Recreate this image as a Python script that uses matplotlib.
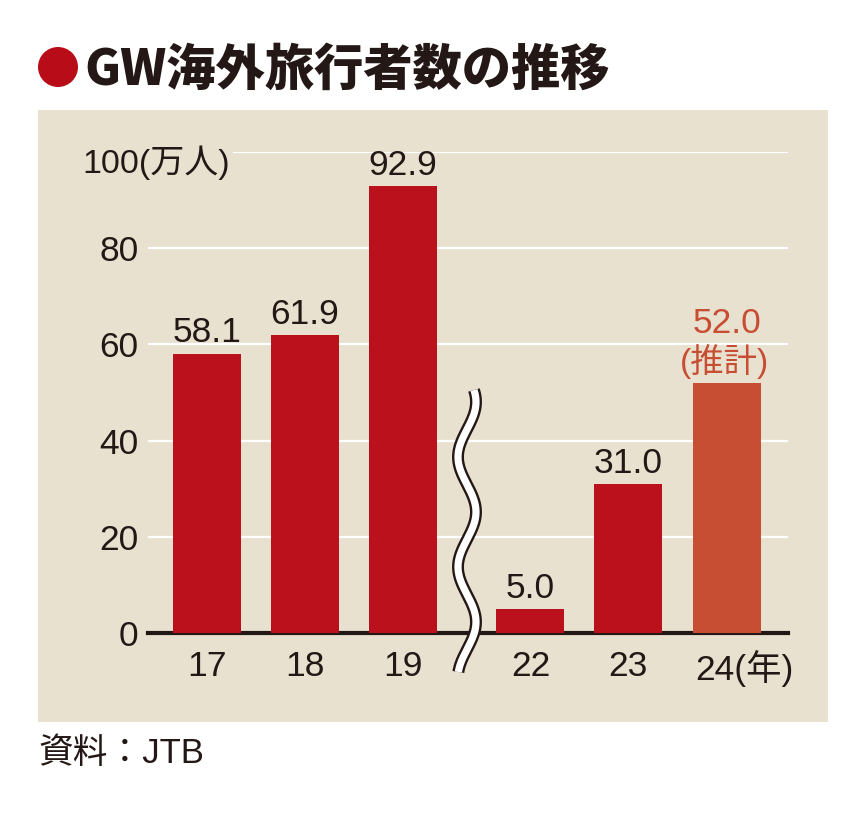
import numpy as np
import matplotlib
matplotlib.use("Agg")
import matplotlib.pyplot as plt
from matplotlib.patches import Rectangle, Ellipse

plt.rcParams['font.family'] = ['Liberation Sans', 'Noto Sans CJK JP', 'DejaVu Sans']

# ---- data ----
years = ["17", "18", "19", "22", "23", "24"]
values = [58.1, 61.9, 92.9, 5.0, 31.0, 52.0]
positions = [0, 1, 2, 3.3, 4.3, 5.31]
yticks = [0, 20, 40, 60, 80]
title = "GW海外旅行者数の推移"
source = "資料：JTB"

DARK = "#231815"
RED = "#bb111c"
ORANGE = "#c74d33"
BEIGE = "#e9e1cf"

W, H = 868, 813
fig = plt.figure(figsize=(W / 100, H / 100), dpi=100)
fig.patch.set_facecolor("white")

def fx(px):
    return px / W

def fy(py):
    return 1 - py / H

# beige panel
fig.add_artist(Rectangle((fx(38), fy(722)), fx(828) - fx(38), fy(110) - fy(722),
                         transform=fig.transFigure, facecolor=BEIGE, edgecolor="none", zorder=0))

# title
fig.add_artist(Ellipse((fx(58), fy(67)), 40 / W, 40 / H, transform=fig.transFigure,
                       facecolor="#b80d18", edgecolor="none", zorder=2))
fig.text(fx(84), fy(70), title, fontsize=35.5, fontweight="heavy", color=DARK,
         family=["Noto Sans CJK JP"], va="center", ha="left")

# source
fig.text(fx(38), fy(753), source, fontsize=25, color=DARK, va="center", ha="left",
         family=["Liberation Sans", "Noto Sans CJK JP"])

# axes: 0 at y=633px, 100 at y=152px ; x from 148 to 788 px
ax = fig.add_axes([fx(148), fy(633), fx(788) - fx(148), fy(152) - fy(633)])
ax.set_facecolor("none")
ax.set_ylim(0, 100)
ax.set_xlim((148 - 207) / 98, (788 - 207) / 98)

for t in yticks[1:] + [100]:
    ax.axhline(t, color="white", lw=1.6, zorder=1)

colors = [RED] * 5 + [ORANGE]
ax.bar(positions, values, width=68 / 98, color=colors, zorder=3)

FS = 25.5
for i, (p, v) in enumerate(zip(positions, values)):
    if i == len(values) - 1:
        ax.annotate("(推計)", (p, v), xytext=(-2, 3), textcoords="offset points",
                    ha="center", va="bottom", fontsize=24, color=ORANGE, zorder=6)
        ax.annotate(f"{v:.1f}", (p, v), xytext=(0, 31), textcoords="offset points",
                    ha="center", va="bottom", fontsize=FS, color=ORANGE, zorder=6)
    else:
        ax.annotate(f"{v:.1f}", (p, v), xytext=(0, 3), textcoords="offset points",
                    ha="center", va="bottom", fontsize=FS, color=DARK, zorder=6)

for s in ["top", "right", "left"]:
    ax.spines[s].set_visible(False)
ax.spines["bottom"].set_color(DARK)
ax.spines["bottom"].set_linewidth(3)

ax.set_yticks(yticks)
ax.set_yticklabels([str(t) for t in yticks])
ax.tick_params(axis="y", length=0, pad=7, labelsize=FS, labelcolor=DARK)
ax.set_xticks(positions[:-1])
ax.set_xticklabels(years[:-1])
ax.tick_params(axis="x", length=0, pad=12, labelsize=FS, labelcolor=DARK)
ax.annotate(years[-1] + "(年)", (positions[-1], 0), xytext=(-23, -12),
            textcoords="offset points", ha="left", va="top", fontsize=FS, color=DARK,
            annotation_clip=False)

# "100 (万人)" label
ax.annotate("100(万人)", (ax.get_xlim()[0], 100), xytext=(-66 / 1.389, -8),
            textcoords="offset points", ha="left", va="center", fontsize=24.5,
            color=DARK, annotation_clip=False, zorder=6,
            bbox=dict(boxstyle="square,pad=0.1", facecolor=BEIGE, edgecolor="none"))

# break symbol (wavy double line)
ypx = np.linspace(390, 672, 300)
xpx = 467 - 9 * np.cos(2 * np.pi * (ypx - 457) / 110)
xb = (xpx - 207) / 98
yb = (633 - ypx) / 4.81
ax.plot(xb, yb, color=DARK, lw=8.6, solid_capstyle="butt", zorder=7, clip_on=False)
ax.plot(xb, yb, color="white", lw=5.2, solid_capstyle="butt", zorder=8, clip_on=False)

fig.savefig("out.png", dpi=100, facecolor=fig.get_facecolor())
